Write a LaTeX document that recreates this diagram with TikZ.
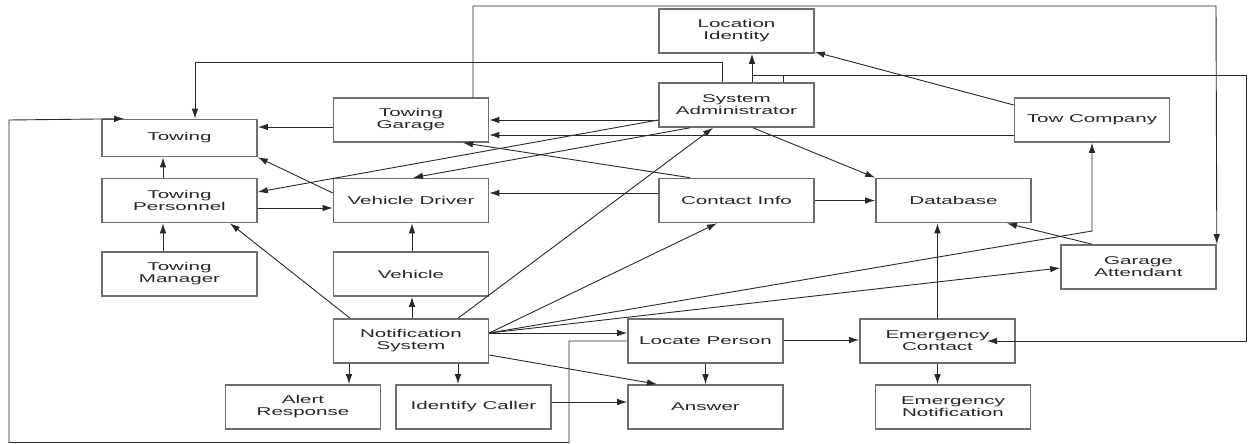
\documentclass[tikz,border=0pt]{standalone}
\usepackage{fontspec}
\newfontfamily\boxfont[FakeStretch=1.82]{Liberation Sans}
\usetikzlibrary{calc, positioning, arrows.meta}
\definecolor{bord}{RGB}{110,110,110}
\definecolor{trait}{RGB}{40,40,40}

\begin{document}
\begin{tikzpicture}[x=1pt,y=-1pt]
  \tikzstyle{boite}=[draw=bord, line width=1.6pt, minimum width=155pt,
    minimum height=44pt, inner sep=0pt, align=center,
    font=\boxfont\fontsize{11.3}{12}\selectfont, text=black!85]
  \tikzstyle{fleche}=[-{Latex[length=10pt,width=6.5pt]}, draw=trait,
    line width=0.9pt]
  \useasboundingbox (0,0) rectangle (1248,444);
  % boxes
  \node[boite] (loc) at (736.5,31) {Location\\Identity};
  \node[boite] (sysadm) at (736.5,105) {System\\Administrator};
  \node[boite] (garage) at (411,120) {Towing\\Garage};
  \node[boite] (towco) at (1092,120) {Tow Company};
  \node[boite, minimum height=37pt] (towing) at (179.5,138) {Towing};
  \node[boite] (pers) at (179.5,200.5) {Towing\\Personnel};
  \node[boite] (driver) at (411,200.5) {Vehicle Driver};
  \node[boite] (contact) at (736.5,200.5) {Contact Info};
  \node[boite] (db) at (953.5,200.5) {Database};
  \node[boite] (mgr) at (179.5,274) {Towing\\Manager};
  \node[boite] (vehicle) at (411,274) {Vehicle};
  \node[boite] (gatt) at (1138.5,267) {Garage\\Attendant};
  \node[boite] (notif) at (411,341) {Notification\\System};
  \node[boite] (locate) at (705.5,341) {Locate Person};
  \node[boite] (emerg) at (937.5,341) {Emergency\\Contact};
  \node[boite] (alert) at (303,407) {Alert\\Response};
  \node[boite] (ident) at (473.5,407) {Identify Caller};
  \node[boite] (answer) at (705.5,407) {Answer};
  \node[boite] (enotif) at (953,407) {Emergency\\Notification};
  % straight links
  \draw[fleche] (garage.west |- 0,127) -- (towing.east |- 0,127);
  \draw[fleche] (pers.north -| 163,0) -- (towing.south -| 163,0);
  \draw[fleche] (driver.west |- 0,193) -- (towing.south east);
  \draw[fleche] (sysadm.west |- 0,120) -- (pers.east |- 0,192);
  \draw[fleche] (sysadm.south -| 690,0) -- (driver.north -| 413,0);
  \draw[fleche] (sysadm.west |- 0,120) -- (garage.east |- 0,120);
  \draw[fleche] (towco.west |- 0,135) -- (garage.east |- 0,135);
  \draw[fleche] (contact.north -| 690,0) -- (garage.south -| 463,0);
  \draw[fleche] (contact.west |- 0,193) -- (driver.east |- 0,193);
  \draw[fleche] (pers.east |- 0,208) -- (driver.west |- 0,208);
  \draw[fleche] (mgr.north -| 163,0) -- (pers.south -| 163,0);
  \draw[fleche] (vehicle.north -| 412,0) -- (driver.south -| 412,0);
  \draw[fleche] (notif.north -| 412,0) -- (vehicle.south -| 412,0);
  \draw[fleche] (notif.north -| 350,0) -- (pers.south -| 230,0);
  \draw[fleche] (notif.south -| 349,0) -- (alert.north -| 349,0);
  \draw[fleche] (notif.south -| 458,0) -- (ident.north -| 458,0);
  \draw[fleche] (notif.north -| 458,0) -- (sysadm.south -| 713,0);
  \draw[fleche] (notif.east |- 0,333) -- (contact.south -| 717,0);
  \draw[fleche] (notif.east |- 0,333) -- (1092,231) -- (towco.south);
  \draw[fleche] (notif.east |- 0,333) -- (gatt.west |- 0,268);
  \draw[fleche] (notif.east |- 0,333) -- (locate.west |- 0,333);
  \draw[fleche] (notif.east |- 0,355) -- (answer.north -| 657,0);
  \draw[fleche] (ident.east |- 0,402) -- (answer.west |- 0,402);
  \draw[fleche] (locate.south) -- (answer.north);
  \draw[fleche] (locate.east |- 0,340) -- (emerg.west |- 0,340);
  \draw[fleche] (emerg.south) -- (enotif.north -| emerg.south);
  \draw[fleche] (emerg.north) -- (db.south -| emerg.north);
  \draw[fleche] (gatt.north -| 1092,0) -- (db.south -| 1007,0);
  \draw[fleche] (contact.east) -- (db.west);
  \draw[fleche] (sysadm.south -| 753,0) -- (db.north west);
  \draw[fleche] (sysadm.north -| 752,0) -- (loc.south -| 752,0);
  \draw[fleche] (towco.west |- 0,105) -- (loc.east |- 0,52);
  % long detours
  \draw[fleche] (locate.west |- 0,341) -- (569,341) -- (569,442.5)
    -- (9,442.5) -- (9,120) -- ($(towing.north west)+(23,0)$);
  \draw[fleche] (sysadm.north -| 722,0) -- (722,62) -- (195,62)
    -- (towing.north -| 195,0);
  \draw[fleche] (garage.north -| 473,0) -- (473,6) -- (1216,6)
    -- (gatt.north east);
  \draw[fleche] (sysadm.north -| 783,0) -- (783,75) (752,75)
    -- (1246.5,75) -- (1246.5,341) -- (987,341);
\end{tikzpicture}
\end{document}
